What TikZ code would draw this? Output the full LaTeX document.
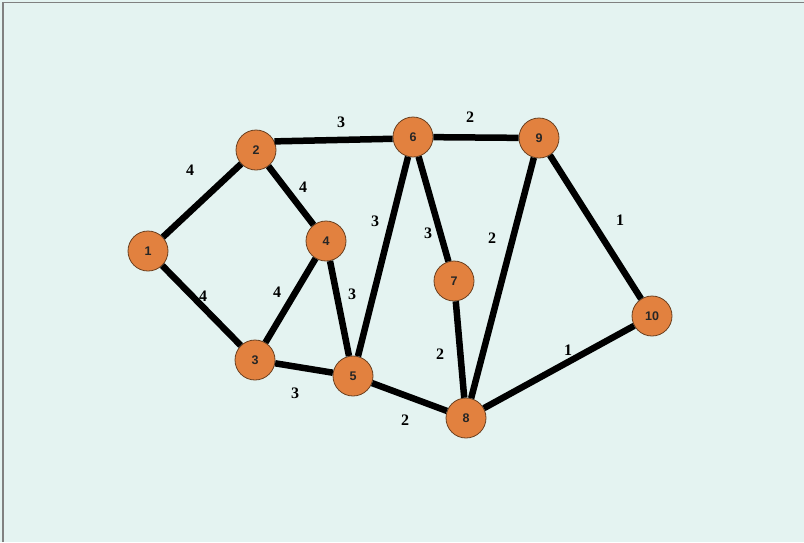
\documentclass[tikz,border=0pt]{standalone}
\usepackage{fontspec}
\setmainfont{Liberation Serif}
\newfontfamily\nodefont{Liberation Sans}
\definecolor{bgc}{HTML}{E4F3F1}
\definecolor{nodec}{HTML}{E2813F}
\definecolor{nodeline}{HTML}{6B4020}
\definecolor{framec}{HTML}{808080}
\begin{document}
\begin{tikzpicture}[x=1pt,y=-1pt,
  vtx/.style={circle,fill=nodec,draw=nodeline,line width=0.8pt,minimum size=40pt,inner sep=0pt,font=\nodefont\bfseries\fontsize{12.5}{14}\selectfont,text=black!85},
  edge/.style={line width=6.5pt,black},
  wlab/.style={font=\bfseries\fontsize{16}{17}\selectfont,text=black}]
\fill[bgc] (0,0) rectangle (804,542);
\useasboundingbox (0,0) rectangle (804,542);
\draw[framec,line width=1.5pt] (3,542) -- (3,2.5) -- (804,2.5);
\node[vtx] (n1) at (148,251) {1};
\node[vtx] (n2) at (256,150) {2};
\node[vtx] (n3) at (255,360) {3};
\node[vtx] (n4) at (326,241) {4};
\node[vtx] (n5) at (353,376) {5};
\node[vtx] (n6) at (413,137) {6};
\node[vtx] (n7) at (454,281) {7};
\node[vtx] (n8) at (466,418) {8};
\node[vtx] (n9) at (539,138) {9};
\node[vtx] (n10) at (652,316) {10};
\foreach \a/\b in {n1/n2,n1/n3,n2/n4,n3/n4,n3/n5,n4/n5,n5/n6,n5/n8,n6/n7,n6/n9,n7/n8,n8/n9,n8/n10,n9/n10}
  \draw[edge] (\a) -- (\b);
\draw[edge] (n2.25) -- (n6.185);
\node[wlab] (l12) at (190,170) {4};
\node[wlab] (l13) at (203,296) {4};
\node[wlab] (l24) at (303,187) {4};
\node[wlab] (l26) at (341,122) {3};
\node[wlab] (l34) at (277,292) {4};
\node[wlab] (l35) at (295,393) {3};
\node[wlab] (l45) at (352,294) {3};
\node[wlab] (l56) at (375,221) {3};
\node[wlab] (l58) at (405,420) {2};
\node[wlab] (l67) at (428,233) {3};
\node[wlab] (l69) at (470,117) {2};
\node[wlab] (l78) at (440,354) {2};
\node[wlab] (l89) at (492,238) {2};
\node[wlab] (l810) at (568,350) {1};
\node[wlab] (l910) at (620,220) {1};
\end{tikzpicture}
\end{document}
